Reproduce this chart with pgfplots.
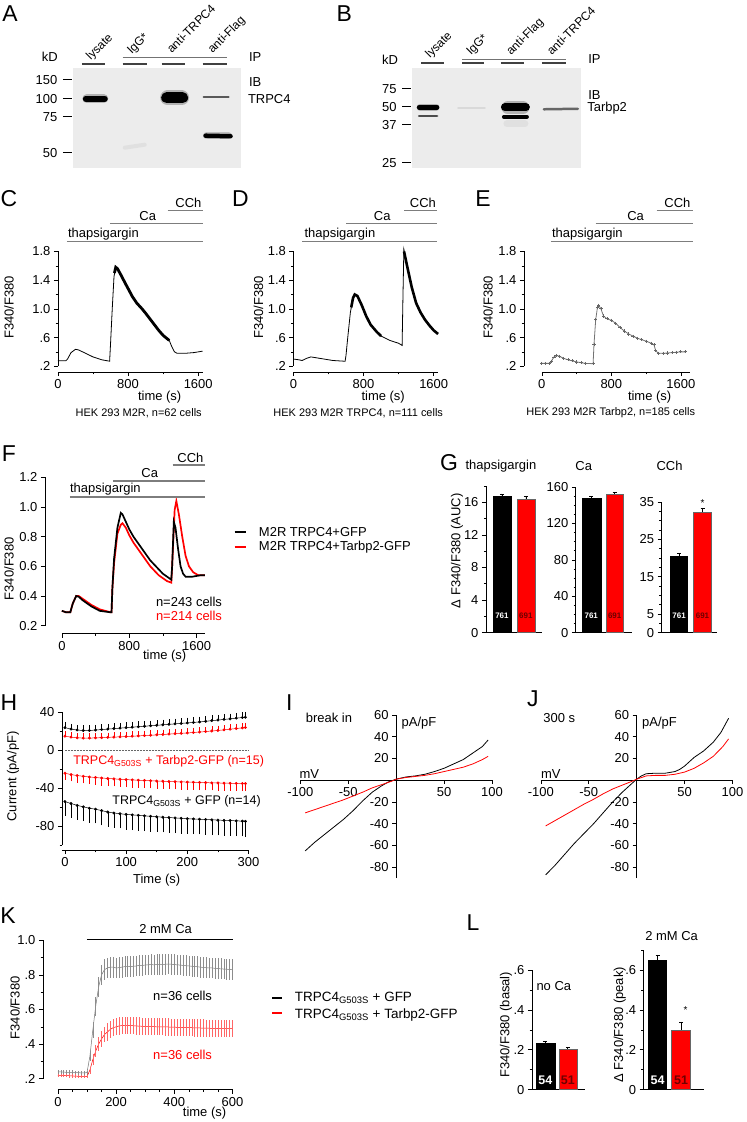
\documentclass[border=0pt]{standalone}
\usepackage{pgfplots}
\pgfplotsset{compat=1.18}
\usepackage{fontspec}
\setmainfont{Liberation Sans}
\definecolor{tgray}{RGB}{125,125,125}
\definecolor{dred}{RGB}{110,0,0}
\definecolor{blotbg}{RGB}{236,236,236}
\newcommand\fT{\fontsize{13}{15}\selectfont}
\newcommand\fS{\fontsize{11}{13}\selectfont}
\newcommand\fP{\fontsize{23}{25}\selectfont}
\tikzset{px/.style={x=1pt,y=-1pt}}
\pgfplotsset{
  orig/.style={scale only axis, axis lines=left, axis line style={-, line width=0.6pt},
    tick align=outside, major tick length=4pt, minor tick length=2.2pt,
    every tick/.style={black, line width=0.6pt},
    tick label style={font=\fT}, clip=false,
    /pgf/number format/assume math mode=true, /pgf/number format/1000 sep={}},
  blot/.style={scale only axis, hide axis, clip=false, y dir=reverse},
  iv/.style={scale only axis, axis lines=middle, axis line style={-, line width=0.6pt},
    tick align=outside, major tick length=4pt,
    every tick/.style={black, line width=0.6pt},
    tick label style={font=\fT}, clip=false,
    xmin=-100, xmax=100, ymin=-90, ymax=60, width=192pt, height=163.5pt,
    xtick={-100,-50,50,100}, xticklabels={-100,-50,50,100},
    ytick={-80,-60,-40,-20,20,40,60}, yticklabels={-80,-60,-40,-20,20,40,60}},
  bars/.style={orig, xmin=0, xmax=56, ymin=0, xtick=\empty, width=56pt},
}
\begin{document}
\begin{tikzpicture}
\begin{scope}[px]
\useasboundingbox (0,0) rectangle (745,1122);
\foreach \t/\px/\py in {A/10/14,B/345/14,C/9/199,D/241/199,E/484/199,F/9/455,G/450/464,H/9/704,I/290/704,J/534/700,K/8/918,L/474/925}
  \node[font=\fP] at (\px,\py) {\t};
\end{scope}
% ================= A blot
\begin{axis}[blot, at={(73pt,-168pt)}, anchor=south west, width=169pt, height=100pt, xmin=73, xmax=242, ymin=68, ymax=168]
\addplot[draw=none, fill=blotbg] coordinates {(73,68)(242,68)(242,168)(73,168)} -- cycle;
\addplot[line width=9pt, black!30, line cap=round] coordinates {(87,99)(104,99)};
\addplot[line width=6pt, black, line cap=round] coordinates {(86,99)(105,99)};
\addplot[line width=15pt, black!30, line cap=round] coordinates {(168,98)(182,98)};
\addplot[line width=11pt, black, line cap=round] coordinates {(167,98)(183,98)};
\addplot[line width=2pt, black!65, line cap=round] coordinates {(204,97)(229,97)};
\addplot[line width=7pt, black!25, line cap=round] coordinates {(207,136)(229,136)};
\addplot[line width=4.5pt, black, line cap=round] coordinates {(206,136)(231,136.5)};
\addplot[line width=4pt, black!12, line cap=round] coordinates {(125,148)(145,145)};
\end{axis}
\begin{scope}[px]
\node[font=\fT] at (50,57) {kD};
\foreach \v/\yy in {150/80,100/99,75/117,50/153}{
  \node[font=\fT, anchor=east] at (61,\yy) {\v};
  \draw[line width=1.2pt] (63,\yy) -- (72,\yy);}
\foreach \a/\b in {82/105,123/147,162/185,203/227} \draw[black!75, line width=1.6pt] (\a,64) -- (\b,64);
\draw[black!55, line width=0.9pt] (123,58) -- (227,58);
\node[font=\fontsize{12}{14}\selectfont, rotate=45, anchor=base west, inner sep=0] at (91,61) {lysate};
\node[font=\fontsize{12}{14}\selectfont, rotate=45, anchor=base west, inner sep=0] at (132,55) {IgG*};
\node[font=\fontsize{12}{14}\selectfont, rotate=45, anchor=base west, inner sep=0] at (172,54) {anti-TRPC4};
\node[font=\fontsize{12}{14}\selectfont, rotate=45, anchor=base west, inner sep=0] at (213,54) {anti-Flag};
\node[font=\fT, anchor=west] at (246,57) {IP};
\node[font=\fT, anchor=west] at (246,82) {IB};
\node[font=\fT, anchor=west] at (245,99) {TRPC4};
\end{scope}
% ================= B blot
\begin{axis}[blot, at={(413pt,-168pt)}, anchor=south west, width=169pt, height=100pt, xmin=413, xmax=582, ymin=68, ymax=168]
\addplot[draw=none, fill=blotbg] coordinates {(413,68)(582,68)(582,168)(413,168)} -- cycle;
\addplot[line width=7pt, black!30, line cap=round] coordinates {(421,107.5)(437,107.5)};
\addplot[line width=4.5pt, black, line cap=round] coordinates {(420,107.5)(438,107.5)};
\addplot[line width=2.5pt, black!70, line cap=round] coordinates {(420,116)(438,116)};
\addplot[line width=7pt, black!12, line cap=round] coordinates {(508,124)(526,124)};
\addplot[line width=13pt, black!30, line cap=round] coordinates {(509,108)(524,108)};
\addplot[line width=8pt, black, line cap=round] coordinates {(506,107.5)(527,107.5)};
\addplot[line width=4pt, black, line cap=round] coordinates {(505,117)(528,117)};
\addplot[line width=2.5pt, black!60, line cap=round] coordinates {(545,109.5)(579,109)};
\addplot[line width=1.5pt, black!15, line cap=round] coordinates {(459,108)(486,108)};
\end{axis}
\begin{scope}[px]
\node[font=\fT] at (391,60) {kD};
\foreach \v/\yy in {75/89,50/107,37/125,25/163}{
  \node[font=\fT, anchor=east] at (401,\yy) {\v};
  \draw[line width=1.2pt] (403,\yy) -- (412,\yy);}
\foreach \a/\b in {422/445,463/485,502/525,543/567} \draw[black!75, line width=1.6pt] (\a,63) -- (\b,63);
\draw[black!55, line width=0.9pt] (463,60) -- (567,60);
\node[font=\fontsize{12}{14}\selectfont, rotate=45, anchor=base west, inner sep=0] at (431,59) {lysate};
\node[font=\fontsize{12}{14}\selectfont, rotate=45, anchor=base west, inner sep=0] at (472,56) {IgG*};
\node[font=\fontsize{12}{14}\selectfont, rotate=45, anchor=base west, inner sep=0] at (512,56) {anti-Flag};
\node[font=\fontsize{12}{14}\selectfont, rotate=45, anchor=base west, inner sep=0] at (553,56) {anti-TRPC4};
\node[font=\fT, anchor=west] at (586,59) {IP};
\node[font=\fT, anchor=west] at (586,95) {IB};
\node[font=\fT, anchor=west] at (585,108) {Tarbp2};
\end{scope}
% ================= C
\begin{axis}[orig, at={(58pt,-367pt)}, anchor=south west, width=145pt, height=115pt,
  xmin=0, xmax=1650, ymin=0.2, ymax=1.8, xtick={0,800,1600}, minor xtick={400,1200},
  ytick={0.2,0.6,1.0,1.4,1.8}, yticklabels={.2,.6,1.0,1.4,1.8}, minor ytick={0.4,0.8,1.2,1.6},
  axis x line shift=6pt]
\addplot[black, line width=0.8pt] coordinates {(0,.275)(90,.275)(110,.30)(150,.39)(200,.435)(230,.43)(300,.39)(400,.33)(500,.29)(590,.27)(600,.5)(620,1.0)(640,1.45)(660,1.58)(680,1.56)(720,1.47)(780,1.33)(850,1.17)(900,1.08)(960,1.0)(1000,.94)(1050,.86)(1100,.78)(1150,.70)(1200,.63)(1240,.59)(1270,.56)(1300,.47)(1330,.40)(1360,.38)(1450,.38)(1550,.39)(1650,.41)};
\addplot[black, line width=2.8pt] coordinates {(645,1.5)(660,1.58)(680,1.56)(720,1.47)(780,1.33)(850,1.17)(900,1.08)(960,1.0)(1000,.94)(1050,.86)(1100,.78)(1150,.70)(1200,.63)(1240,.59)(1270,.56)};
\end{axis}
\begin{scope}[px]
\node[font=\fT, rotate=90] at (9,308) {F340/F380};
\node[font=\fT] at (160,398) {time (s)};
\node[font=\fS] at (139,414) {HEK 293 M2R, n=62 cells};
\draw[tgray, line width=1.3pt] (67,242) -- (203,242);
\draw[tgray, line width=1.3pt] (110,224) -- (203,224);
\draw[tgray, line width=1.3pt] (168,211) -- (203,211);
\node[font=\fT, anchor=base west, inner sep=0] at (68,238) {thapsigargin};
\node[font=\fT, anchor=base, inner sep=0] at (148,221) {Ca};
\node[font=\fT, anchor=base east, inner sep=0] at (202,208) {CCh};
\end{scope}
% ================= D
\begin{axis}[orig, at={(294pt,-367pt)}, anchor=south west, width=145pt, height=115pt,
  xmin=0, xmax=1650, ymin=0.2, ymax=1.8, xtick={0,800,1600}, minor xtick={400,1200},
  ytick={0.2,0.6,1.0,1.4,1.8}, yticklabels={.2,.6,1.0,1.4,1.8}, minor ytick={0.4,0.8,1.2,1.6},
  axis x line shift=6pt]
\addplot[black, line width=0.8pt] coordinates {(0,.30)(60,.29)(100,.28)(150,.31)(200,.33)(250,.32)(350,.30)(450,.28)(580,.27)(590,.27)(600,.35)(620,.6)(650,.95)(680,1.15)(700,1.2)(730,1.18)(780,1.05)(830,.9)(880,.78)(950,.68)(1000,.62)(1100,.56)(1200,.52)(1240,.49)(1250,1.2)(1260,1.83)(1300,1.58)(1350,1.3)(1400,1.08)(1450,.95)(1500,.85)(1550,.77)(1600,.70)(1650,.65)};
\addplot[black, line width=2.6pt] coordinates {(660,1.02)(680,1.15)(700,1.2)(730,1.18)(780,1.05)(830,.9)(880,.78)(950,.68)(1000,.62)};
\addplot[black, line width=2.6pt] coordinates {(1262,1.8)(1300,1.58)(1350,1.3)(1400,1.08)(1450,.95)(1500,.85)(1550,.77)(1600,.70)(1650,.65)};
\end{axis}
\begin{scope}[px]
\node[font=\fT, rotate=90] at (259,308) {F340/F380};
\node[font=\fT] at (384,398) {time (s)};
\node[font=\fS] at (359,414) {HEK 293 M2R TRPC4, n=111 cells};
\draw[tgray, line width=1.3pt] (303,242) -- (438,242);
\draw[tgray, line width=1.3pt] (347,224) -- (438,224);
\draw[tgray, line width=1.3pt] (405,211) -- (438,211);
\node[font=\fT, anchor=base west, inner sep=0] at (305,238) {thapsigargin};
\node[font=\fT, anchor=base, inner sep=0] at (383,221) {Ca};
\node[font=\fT, anchor=base east, inner sep=0] at (437,208) {CCh};
\end{scope}
% ================= E
\begin{axis}[orig, at={(543pt,-367pt)}, anchor=south west, width=148pt, height=115pt,
  xmin=0, xmax=1700, ymin=0.2, ymax=1.8, xtick={0,800,1600}, minor xtick={400,1200},
  ytick={0.2,0.6,1.0,1.4,1.8}, yticklabels={.2,.6,1.0,1.4,1.8}, minor ytick={0.4,0.8,1.2,1.6},
  axis x line shift=6pt, axis y line shift=18pt]
\addplot[black!55, line width=0.8pt, mark=+, mark size=1.6pt, mark options={black!60}] coordinates {(0,.24)(45,.24)(90,.24)(110,.27)(140,.33)(170,.35)(200,.34)(250,.31)(300,.29)(350,.275)(400,.26)(450,.25)(500,.24)(590,.235)(600,.5)(620,.85)(640,1.02)(655,1.05)(680,1.0)(710,.9)(750,.86)(800,.84)(850,.80)(900,.74)(950,.69)(1000,.65)(1050,.62)(1100,.59)(1150,.57)(1200,.55)(1260,.52)(1290,.50)(1310,.42)(1340,.38)(1400,.38)(1450,.385)(1500,.39)(1550,.395)(1600,.40)(1650,.40)};
\end{axis}
\begin{scope}[px]
\node[font=\fT, rotate=90] at (489,308) {F340/F380};
\node[font=\fT] at (651,398) {time (s)};
\node[font=\fS] at (612,414) {HEK 293 M2R Tarbp2, n=185 cells};
\draw[tgray, line width=1.3pt] (552,242) -- (694,242);
\draw[tgray, line width=1.3pt] (597,224) -- (694,224);
\draw[tgray, line width=1.3pt] (658,211) -- (694,211);
\node[font=\fT, anchor=base west, inner sep=0] at (553,238) {thapsigargin};
\node[font=\fT, anchor=base, inner sep=0] at (637,221) {Ca};
\node[font=\fT, anchor=base east, inner sep=0] at (692,208) {CCh};
\end{scope}
% ================= F
\begin{axis}[orig, at={(62pt,-627pt)}, anchor=south west, width=143.4pt, height=148.75pt,
  xmin=0, xmax=1700, ymin=0.2, ymax=1.2, xtick={0,800,1600}, minor xtick={400,1200},
  ytick={0.2,0.4,0.6,0.8,1.0,1.2}, yticklabels={0.2,0.4,0.6,0.8,1.0,1.2},
  axis x line shift=8pt, axis y line shift=17pt]
\addplot[red, line width=1.7pt] coordinates {(0,.30)(50,.29)(100,.29)(130,.35)(170,.40)(200,.40)(250,.38)(350,.34)(450,.31)(580,.29)(590,.29)(600,.45)(620,.62)(660,.82)(700,.88)(720,.89)(760,.86)(800,.81)(850,.76)(900,.72)(950,.68)(1000,.64)(1050,.60)(1100,.57)(1150,.54)(1200,.52)(1250,.50)(1300,.49)(1310,.6)(1340,.98)(1360,1.04)(1390,.95)(1430,.80)(1470,.67)(1510,.60)(1560,.56)(1620,.54)(1700,.54)};
\addplot[black, line width=1.7pt] coordinates {(0,.30)(50,.29)(100,.29)(130,.35)(170,.40)(200,.395)(250,.37)(350,.33)(450,.30)(580,.29)(590,.29)(600,.45)(620,.65)(660,.86)(700,.96)(720,.95)(760,.90)(800,.85)(850,.80)(900,.76)(950,.72)(1000,.68)(1050,.64)(1100,.61)(1150,.58)(1200,.55)(1250,.53)(1300,.51)(1310,.6)(1330,.9)(1350,.86)(1380,.72)(1410,.60)(1440,.55)(1470,.53)(1550,.53)(1650,.54)(1700,.54)};
\end{axis}
\begin{scope}[px]
\node[font=\fT, rotate=90] at (9,570) {F340/F380};
\node[font=\fT] at (165,658) {time (s)};
\draw[tgray, line width=1.3pt] (70,498) -- (205,498);
\draw[tgray, line width=1.3pt] (113,482) -- (205,482);
\draw[tgray, line width=1.3pt] (173,466) -- (205,466);
\node[font=\fT, anchor=base west, inner sep=0] at (70,494) {thapsigargin};
\node[font=\fT, anchor=base, inner sep=0] at (150,479) {Ca};
\node[font=\fT, anchor=base east, inner sep=0] at (204,463) {CCh};
\node[font=\fT, anchor=east] at (226,603) {n=243 cells};
\node[font=\fT, anchor=east, text=red] at (226,617) {n=214 cells};
\draw[black, line width=2pt] (235,533) -- (247,533);
\draw[red, line width=2pt] (235,548) -- (247,548);
\node[font=\fT, anchor=west] at (256,533) {M2R TRPC4+GFP};
\node[font=\fT, anchor=west] at (256,548) {M2R TRPC4+Tarbp2-GFP};
\end{scope}
% ================= G
\begin{axis}[bars, at={(487pt,-634pt)}, anchor=south west, height=147pt, ymax=18,
  ytick={0,4,8,12,16}, minor ytick={2,6,10,14,18}]
\addplot[ybar, bar shift=0pt, bar width=18, fill=black, draw=black, error bars/.cd, y dir=plus, y explicit, error bar style={black, line width=0.6pt}] coordinates {(16,16.8) +- (0,0.25)};
\addplot[ybar, bar shift=0pt, bar width=18, fill=red, draw=black!60, error bars/.cd, y dir=plus, y explicit, error bar style={black, line width=0.6pt}] coordinates {(40,16.4) +- (0,0.3)};
\end{axis}
\begin{axis}[bars, at={(577pt,-634pt)}, anchor=south west, height=146pt, ymax=160,
  ytick={0,40,80,120,160}, minor tick num=3]
\addplot[ybar, bar shift=0pt, bar width=19, fill=black, draw=black, error bars/.cd, y dir=plus, y explicit, error bar style={black, line width=0.6pt}] coordinates {(15.5,148) +- (0,1.5)};
\addplot[ybar, bar shift=0pt, bar width=18, fill=red, draw=black!60, error bars/.cd, y dir=plus, y explicit, error bar style={black, line width=0.6pt}] coordinates {(39,152) +- (0,2.2)};
\end{axis}
\begin{axis}[bars, at={(663pt,-634pt)}, anchor=south west, height=131pt, ymax=35,
  ytick={0,5,15,25,35}, minor ytick={2.5,7.5,10,12.5,17.5,20,22.5,27.5,30,32.5}]
\addplot[ybar, bar shift=0pt, bar width=17, fill=black, draw=black, error bars/.cd, y dir=plus, y explicit, error bar style={black, line width=0.6pt}] coordinates {(17.5,20.4) +- (0,0.8)};
\addplot[ybar, bar shift=0pt, bar width=18, fill=red, draw=black!60, error bars/.cd, y dir=plus, y explicit, error bar style={black, line width=0.6pt}] coordinates {(41,32.2) +- (0,1.2)};
\end{axis}
\begin{scope}[px]
\node[font=\fT] at (502,467) {thapsigargin};
\node[font=\fT] at (585,467) {Ca};
\node[font=\fT] at (671,467) {CCh};
\node[font=\fT, rotate=90] at (458,552) {Δ F340/F380 (AUC)};
\foreach \xa/\xb in {503/527,592.5/616,680.5/704}{
  \node[font=\fontsize{8}{9}\selectfont\bfseries, text=white] at (\xa,617) {761};
  \node[font=\fontsize{8}{9}\selectfont\bfseries, text=dred] at (\xb,617) {691};}
\node[font=\fontsize{10}{10}\selectfont] at (704,504) {*};
\end{scope}
% ================= H
\begin{axis}[orig, at={(62pt,-847pt)}, anchor=south west, width=187pt, height=133pt,
  xmin=-5, xmax=300, ymin=-100, ymax=40, xtick={0,100,200,300}, minor xtick={50,150,250},
  ytick={-80,-40,0,40}, yticklabels={-80,-40,0,40}, minor ytick={-100,-60,-20,20},
  axis x line shift=5pt,
  every axis plot/.append style={line width=0.5pt, mark=*, mark size=1.2pt},
  error bars/error bar style={line width=0.4pt}, error bars/error mark options={mark size=1pt}]
\addplot[black!60, densely dotted, mark=none] coordinates {(0,0)(300,0)};
\addplot[black, error bars/.cd, y dir=plus, y explicit] table[x=t, y=m, y error=e] {
t m e
0 24 5
10 22.5 4.5
20 21.5 4.5
30 21 4.5
40 21 4.5
50 21.5 4.5
60 22 4.5
70 22.5 4.5
80 23 4.5
90 23.5 4.5
100 24 4.5
110 24.5 4.5
120 25 4.5
130 25.5 4.5
140 26 4.5
150 26.5 4.5
160 27 4.5
170 27.5 4.5
180 28 4.5
190 28.5 4.5
200 29 4.5
210 29.5 4.5
220 30 4.5
230 30.7 4.5
240 31.4 4.5
250 32 4.5
260 32.7 4.5
270 33.3 4.5
280 34 4.5
290 34.7 4.5
295 35 4.5
};
\addplot[red, error bars/.cd, y dir=plus, y explicit] table[x=t, y=m, y error=e] {
t m e
0 15 4
10 14 4
20 13.3 4
30 13 4
40 13 4
50 13.2 4
60 13.5 4
70 13.8 4
80 14 4
90 14.3 4
100 14.6 4
110 15 4
120 15.3 4
130 15.7 4
140 16 4
150 16.4 4
160 16.8 4
170 17.2 4
180 17.6 4
190 18 4
200 18.4 4
210 18.9 4
220 19.4 4
230 19.9 4
240 20.5 4
250 21 4
260 21.7 4
270 22.4 4
280 23.1 4
290 23.8 4
295 24.2 4
};
\addplot[red, error bars/.cd, y dir=minus, y explicit] table[x=t, y=m, y error=e] {
t m e
0 -24 6
10 -25.5 6
20 -26.5 6.5
30 -27.3 6.5
40 -28 6.5
50 -28.6 6.5
60 -29.1 7
70 -29.6 7
80 -30 7
90 -30.4 7
100 -30.8 7
110 -31.1 7
120 -31.4 7
130 -31.7 7
140 -32 7
150 -32.3 7
160 -32.5 7
170 -32.8 7
180 -33 7
190 -33.2 7
200 -33.4 7
210 -33.6 7
220 -33.8 7
230 -34 7
240 -34.2 7
250 -34.3 7
260 -34.5 7
270 -34.6 7
280 -34.8 7
290 -34.9 7
295 -35 7
};
\addplot[black, error bars/.cd, y dir=minus, y explicit] table[x=t, y=m, y error=e] {
t m e
0 -54 14
10 -56 14
20 -58 14
30 -59.5 14
40 -61 14
50 -62 14
60 -63.5 14.5
70 -65 14.5
80 -66 14.5
90 -66.8 14.5
100 -67.5 15
110 -68 15
120 -68.5 15
130 -69 15
140 -69.5 15
150 -70 15
160 -70.4 15
170 -70.8 15
180 -71.2 15
190 -71.6 15
200 -72 15
210 -72.3 15
220 -72.6 15
230 -72.9 15
240 -73.2 15
250 -73.5 15
260 -73.8 15
270 -74 15
280 -74.3 15
290 -74.6 15
295 -74.8 15
};
\end{axis}
\begin{scope}[px]
\node[font=\fT, rotate=90] at (13,778) {Current (pA/pF)};
\node[font=\fT] at (157,882) {Time (s)};
\node[font=\fontsize{12.5}{14}\selectfont, text=red] at (169,763) {TRPC4\textsubscript{G503S} + Tarbp2-GFP (n=15)};
\node[font=\fontsize{12.5}{14}\selectfont] at (187,803) {TRPC4\textsubscript{G503S} + GFP (n=14)};
\end{scope}
% ================= I
\begin{axis}[iv, at={(301pt,-880pt)}, anchor=south west]
\addplot[black, line width=0.8pt] coordinates {(-95,-65)(-85,-57)(-75,-50)(-65,-43)(-55,-36)(-45,-28)(-35,-19)(-25,-11)(-15,-5)(-8,-1.5)(0,1)(10,3)(20,4)(30,5.5)(40,8)(50,11)(60,15)(70,19)(80,25)(90,31)(96,37)};
\addplot[red, line width=0.8pt] coordinates {(-95,-30)(-85,-27)(-75,-24)(-65,-21)(-55,-18)(-45,-14.5)(-35,-11)(-25,-7)(-15,-4)(-5,-1)(0,1)(10,2.5)(20,3.5)(30,4.5)(40,6)(50,8)(60,10)(70,12)(80,15)(90,19)(96,22)};
\end{axis}
\begin{scope}[px]
\node[font=\fT, anchor=west] at (303,719) {break in};
\node[font=\fT, anchor=west] at (399,725) {pA/pF};
\node[font=\fT] at (310,776) {mV};
\end{scope}
% ================= J
\begin{axis}[iv, at={(542pt,-880pt)}, anchor=south west]
\addplot[black, line width=0.8pt] coordinates {(-95,-87)(-85,-78)(-75,-68)(-65,-58)(-55,-49)(-45,-40)(-35,-30)(-25,-20)(-15,-11)(-5,-3)(0,1)(5,4)(10,6)(20,6.5)(30,6.5)(40,8)(45,10)(50,13)(55,17)(60,21)(70,27)(80,35)(88,44)(96,57)};
\addplot[red, line width=0.8pt] coordinates {(-95,-42)(-85,-37)(-75,-32)(-65,-27)(-55,-22)(-45,-17.5)(-35,-12.5)(-25,-8)(-15,-4.5)(-5,-1)(0,1)(10,4)(20,4.5)(30,4.5)(40,5.5)(50,7.5)(60,11)(70,16)(80,22)(90,31)(96,38)};
\end{axis}
\begin{scope}[px]
\node[font=\fT, anchor=west] at (541,720) {300 s};
\node[font=\fT, anchor=west] at (640,725) {pA/pF};
\node[font=\fT] at (552,776) {mV};
\end{scope}
% ================= K
\begin{axis}[orig, at={(58pt,-1081pt)}, anchor=south west, width=175pt, height=138.7pt,
  xmin=0, xmax=600, ymin=0.2, ymax=1.0, xtick={0,200,400,600}, minor x tick num=3,
  ytick={0.2,0.4,0.6,0.8,1.0}, yticklabels={.2,.4,.6,.8,1.0}, minor y tick num=1,
  axis x line shift=11pt, axis y line shift=15pt,
  error bars/error mark=none]
\addplot[black!55, line width=0.5pt, error bars/.cd, y dir=both, y explicit, error bar style={black!45, line width=0.5pt}] table[x=t, y=m, y error=e] {
t m e
0 .24 .012
10 .24 .012
20 .238 .012
30 .237 .012
40 .236 .012
50 .236 .012
60 .235 .012
70 .235 .012
80 .234 .012
90 .234 .012
100 .235 .012
110 .33 .03
120 .48 .045
130 .62 .055
140 .73 .06
150 .80 .06
160 .83 .06
170 .84 .06
180 .845 .06
190 .845 .06
200 .84 .06
210 .842 .06
220 .845 .06
230 .848 .06
240 .85 .06
250 .848 .06
260 .85 .06
270 .852 .06
280 .855 .06
290 .855 .06
300 .857 .06
310 .858 .06
320 .86 .06
330 .858 .06
340 .86 .06
350 .862 .06
360 .86 .06
370 .862 .06
380 .863 .06
390 .862 .06
400 .86 .06
410 .858 .06
420 .857 .06
430 .855 .06
440 .853 .06
450 .852 .06
460 .85 .06
470 .848 .06
480 .847 .06
490 .845 .06
500 .843 .06
510 .842 .06
520 .84 .06
530 .84 .06
540 .838 .06
550 .837 .06
560 .835 .06
570 .834 .06
580 .833 .06
590 .832 .06
600 .83 .06
};
\addplot[red, line width=0.5pt, error bars/.cd, y dir=both, y explicit, error bar style={red!60, line width=0.5pt}] table[x=t, y=m, y error=e] {
t m e
0 .22 .01
10 .22 .01
20 .219 .01
30 .218 .01
40 .217 .01
50 .216 .01
60 .215 .01
70 .214 .01
80 .213 .01
90 .212 .01
100 .212 .01
110 .25 .02
120 .31 .03
130 .36 .035
140 .40 .04
150 .43 .045
160 .455 .045
170 .47 .05
180 .485 .05
190 .495 .05
200 .50 .05
210 .505 .05
220 .507 .05
230 .508 .05
240 .508 .05
250 .507 .05
260 .506 .05
270 .505 .05
280 .504 .05
290 .503 .05
300 .502 .05
310 .502 .05
320 .501 .05
330 .501 .05
340 .50 .05
350 .50 .05
360 .50 .05
370 .499 .05
380 .499 .05
390 .498 .05
400 .498 .05
410 .497 .05
420 .497 .05
430 .496 .05
440 .496 .05
450 .495 .05
460 .495 .05
470 .494 .05
480 .494 .05
490 .493 .05
500 .493 .05
510 .492 .05
520 .492 .05
530 .491 .05
540 .491 .05
550 .49 .05
560 .49 .05
570 .49 .05
580 .49 .05
590 .49 .05
600 .49 .05
};
\end{axis}
\begin{scope}[px]
\draw[black, line width=0.9pt] (87,941) -- (233,941);
\node[font=\fT] at (166,931) {2 mM Ca};
\node[font=\fT, rotate=90] at (15,1010) {F340/F380};
\node[font=\fT] at (205,1115) {time (s)};
\node[font=\fT] at (183,998) {n=36 cells};
\node[font=\fT, text=red] at (183,1057) {n=36 cells};
\draw[black, line width=1.5pt] (273,1000) -- (283,1000);
\draw[red, line width=1.5pt] (273,1015) -- (283,1015);
\node[font=\fontsize{13.5}{15}\selectfont, anchor=west] at (292,1000) {TRPC4\textsubscript{G503S} + GFP};
\node[font=\fontsize{13.5}{15}\selectfont, anchor=west] at (292,1017) {TRPC4\textsubscript{G503S} + Tarbp2-GFP};
\end{scope}
% ================= L
\begin{axis}[bars, at={(533pt,-1092pt)}, anchor=south west, height=120pt, xmax=53, width=53pt, ymax=0.6,
  ytick={0,0.2,0.4,0.6}, yticklabels={0,.2,.4,.6}, minor ytick={0.1,0.3,0.5}]
\addplot[ybar, bar shift=0pt, bar width=19, fill=black, draw=black, error bars/.cd, y dir=plus, y explicit, error bar style={black, line width=0.6pt}] coordinates {(13.5,.232) +- (0,.012)};
\addplot[ybar, bar shift=0pt, bar width=18, fill=red, draw=black!60, error bars/.cd, y dir=plus, y explicit, error bar style={black, line width=0.6pt}] coordinates {(36,.205) +- (0,.008)};
\end{axis}
\begin{axis}[bars, at={(645pt,-1092pt)}, anchor=south west, height=140pt, xmax=60, ymax=0.7, width=60pt,
  ytick={0,0.2,0.4,0.6}, yticklabels={0,.2,.4,.6}, minor ytick={0.1,0.3,0.5,0.7}]
\addplot[ybar, bar shift=0pt, bar width=18, fill=black, draw=black, error bars/.cd, y dir=plus, y explicit, error bar style={black, line width=0.6pt}] coordinates {(14,.65) +- (0,.025)};
\addplot[ybar, bar shift=0pt, bar width=19, fill=red, draw=black!60, error bars/.cd, y dir=plus, y explicit, error bar style={black, line width=0.6pt}] coordinates {(37.5,.30) +- (0,.04)};
\end{axis}
\begin{scope}[px]
\node[font=\fT] at (555,988) {no Ca};
\node[font=\fT] at (673,938) {2 mM Ca};
\node[font=\fT, rotate=90] at (507,1027) {F340/F380 (basal)};
\node[font=\fT, rotate=90] at (621,1027) {Δ F340/F380 (peak)};
\node[font=\fontsize{12.5}{13}\selectfont\bfseries, text=white] at (546.5,1083) {54};
\node[font=\fontsize{12.5}{13}\selectfont\bfseries, text=dred] at (569,1083) {51};
\node[font=\fontsize{12.5}{13}\selectfont\bfseries, text=white] at (659,1083) {54};
\node[font=\fontsize{12.5}{13}\selectfont\bfseries, text=dred] at (682.5,1083) {51};
\node[font=\fontsize{10}{10}\selectfont] at (687,1012) {*};
\end{scope}
\end{tikzpicture}
\end{document}
